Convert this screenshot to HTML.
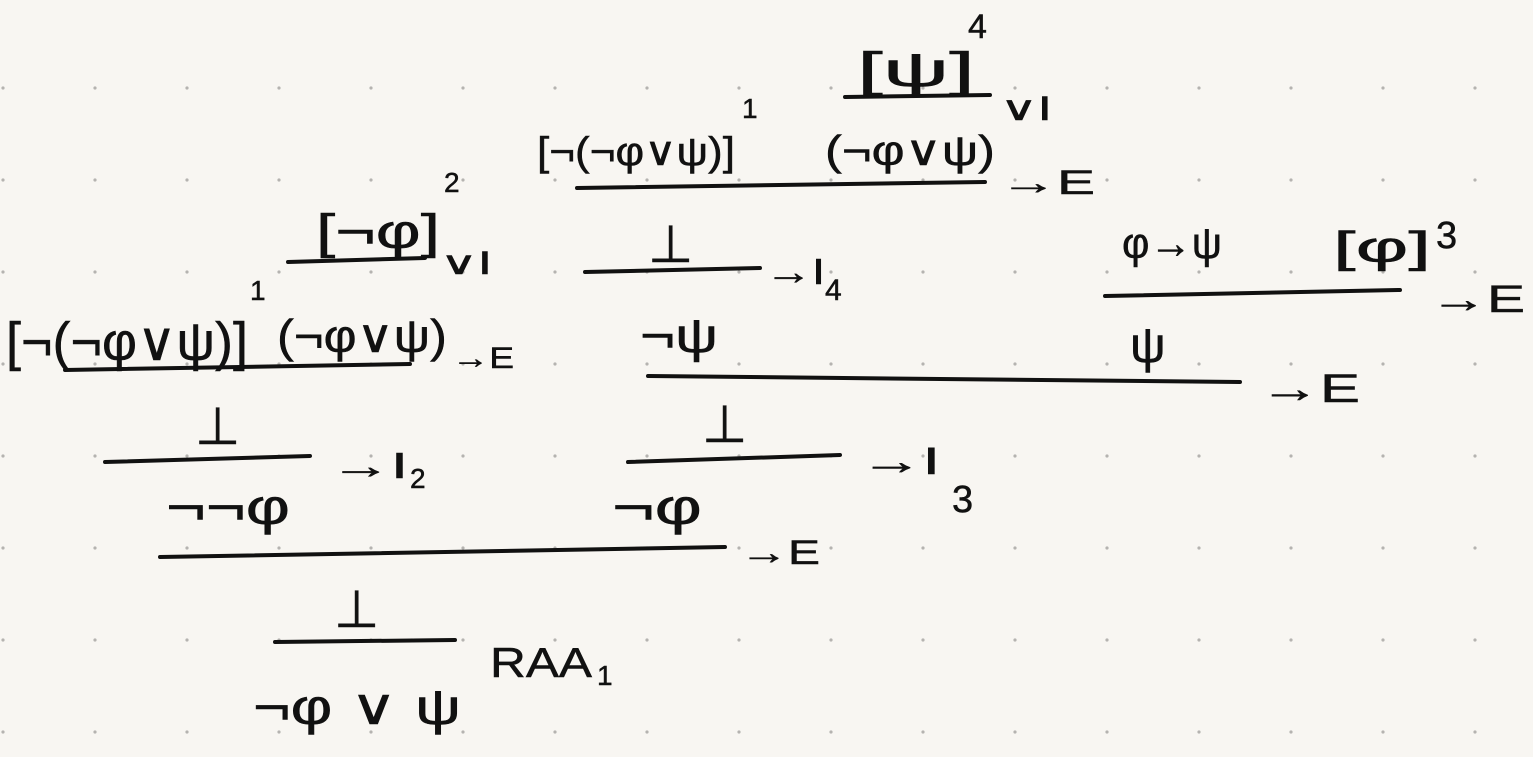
<!DOCTYPE html>
<html><head><meta charset="utf-8"><style>
html,body{margin:0;padding:0;background:#f8f6f2;}
svg{display:block}
text{font-family:"Liberation Sans","DejaVu Sans",sans-serif;fill:#111;stroke:#111;stroke-width:0.5}
</style></head><body>
<svg width="1533" height="757" xmlns="http://www.w3.org/2000/svg">
<defs><pattern id="g" x="3" y="88" width="92" height="92" patternUnits="userSpaceOnUse"><circle cx="0" cy="0" r="1.6" fill="#b5b3b0"/><circle cx="92" cy="0" r="1.6" fill="#b5b3b0"/><circle cx="0" cy="92" r="1.6" fill="#b5b3b0"/><circle cx="92" cy="92" r="1.6" fill="#b5b3b0"/></pattern></defs>
<rect width="1533" height="757" fill="#f8f6f2"/>
<rect width="1533" height="757" fill="url(#g)"/>
<g stroke="#111" stroke-width="4" stroke-linecap="round" fill="none">
<line x1="845" y1="97" x2="990" y2="95"/>
<line x1="577" y1="188" x2="985" y2="182"/>
<line x1="585" y1="272" x2="760" y2="268"/>
<line x1="288" y1="262" x2="425" y2="258"/>
<line x1="65" y1="370" x2="410" y2="364"/>
<line x1="1105" y1="296" x2="1400" y2="290"/>
<line x1="648" y1="376" x2="1240" y2="382"/>
<line x1="105" y1="462" x2="310" y2="456"/>
<line x1="628" y1="462" x2="840" y2="455"/>
<line x1="160" y1="557" x2="725" y2="547"/>
<line x1="275" y1="642" x2="455" y2="640"/>
</g>
<g font-size="48">
<text x="857" y="86" textLength="118" lengthAdjust="spacingAndGlyphs">[ψ]</text><text x="968" y="38" font-size="34">4</text>
<text x="1000" y="120" font-size="34" textLength="52" lengthAdjust="spacingAndGlyphs">∨I</text>
<text x="537" y="165" font-size="40" textLength="198" lengthAdjust="spacingAndGlyphs">[¬(¬φ∨ψ)]</text><text x="742" y="118" font-size="28">1</text>
<text x="825" y="165" font-size="42" textLength="170" lengthAdjust="spacingAndGlyphs">(¬φ∨ψ)</text>
<text x="1000" y="194" font-size="34" textLength="95" lengthAdjust="spacingAndGlyphs">→E</text>
<text x="648" y="262" font-size="52">⊥</text>
<text x="765" y="284" font-size="36" textLength="60" lengthAdjust="spacingAndGlyphs">→I</text><text x="825" y="300" font-size="30">4</text>
<text x="640" y="352" font-size="48" textLength="78" lengthAdjust="spacingAndGlyphs">¬ψ</text>
<text x="316" y="248" font-size="48" textLength="124" lengthAdjust="spacingAndGlyphs">[¬φ]</text><text x="444" y="192" font-size="28">2</text>
<text x="440" y="274" font-size="32" textLength="52" lengthAdjust="spacingAndGlyphs">∨I</text>
<text x="6" y="360" font-size="54" textLength="242" lengthAdjust="spacingAndGlyphs">[¬(¬φ∨ψ)]</text><text x="250" y="300" font-size="28">1</text>
<text x="277" y="352" font-size="46" textLength="170" lengthAdjust="spacingAndGlyphs">(¬φ∨ψ)</text>
<text x="452" y="368" font-size="30" textLength="62" lengthAdjust="spacingAndGlyphs">→E</text>
<text x="1122" y="258" font-size="44" textLength="100" lengthAdjust="spacingAndGlyphs">φ→ψ</text>
<text x="1333" y="262" font-size="44" textLength="98" lengthAdjust="spacingAndGlyphs">[φ]</text><text x="1436" y="248" font-size="38">3</text>
<text x="1430" y="312" font-size="38" textLength="95" lengthAdjust="spacingAndGlyphs">→E</text>
<text x="1130" y="362" font-size="50">ψ</text>
<text x="1260" y="402" font-size="40" textLength="100" lengthAdjust="spacingAndGlyphs">→E</text>
<text x="195" y="444" font-size="52">⊥</text>
<text x="330" y="478" font-size="36" textLength="78" lengthAdjust="spacingAndGlyphs">→I</text><text x="410" y="488" font-size="28">2</text>
<text x="166" y="524" font-size="50" textLength="124" lengthAdjust="spacingAndGlyphs">¬¬φ</text>
<text x="702" y="442" font-size="52">⊥</text>
<text x="860" y="474" font-size="38" textLength="80" lengthAdjust="spacingAndGlyphs">→I</text><text x="952" y="512" font-size="38">3</text>
<text x="612" y="524" font-size="50" textLength="90" lengthAdjust="spacingAndGlyphs">¬φ</text>
<text x="740" y="564" font-size="34" textLength="80" lengthAdjust="spacingAndGlyphs">→E</text>
<text x="334" y="627" font-size="52">⊥</text>
<text x="490" y="677" font-size="42" textLength="102" lengthAdjust="spacingAndGlyphs">RAA</text><text x="597" y="685" font-size="28">1</text>
<text x="253" y="724" font-size="50" textLength="208" lengthAdjust="spacingAndGlyphs">¬φ ∨ ψ</text>
</g>
</svg>
</body></html>
